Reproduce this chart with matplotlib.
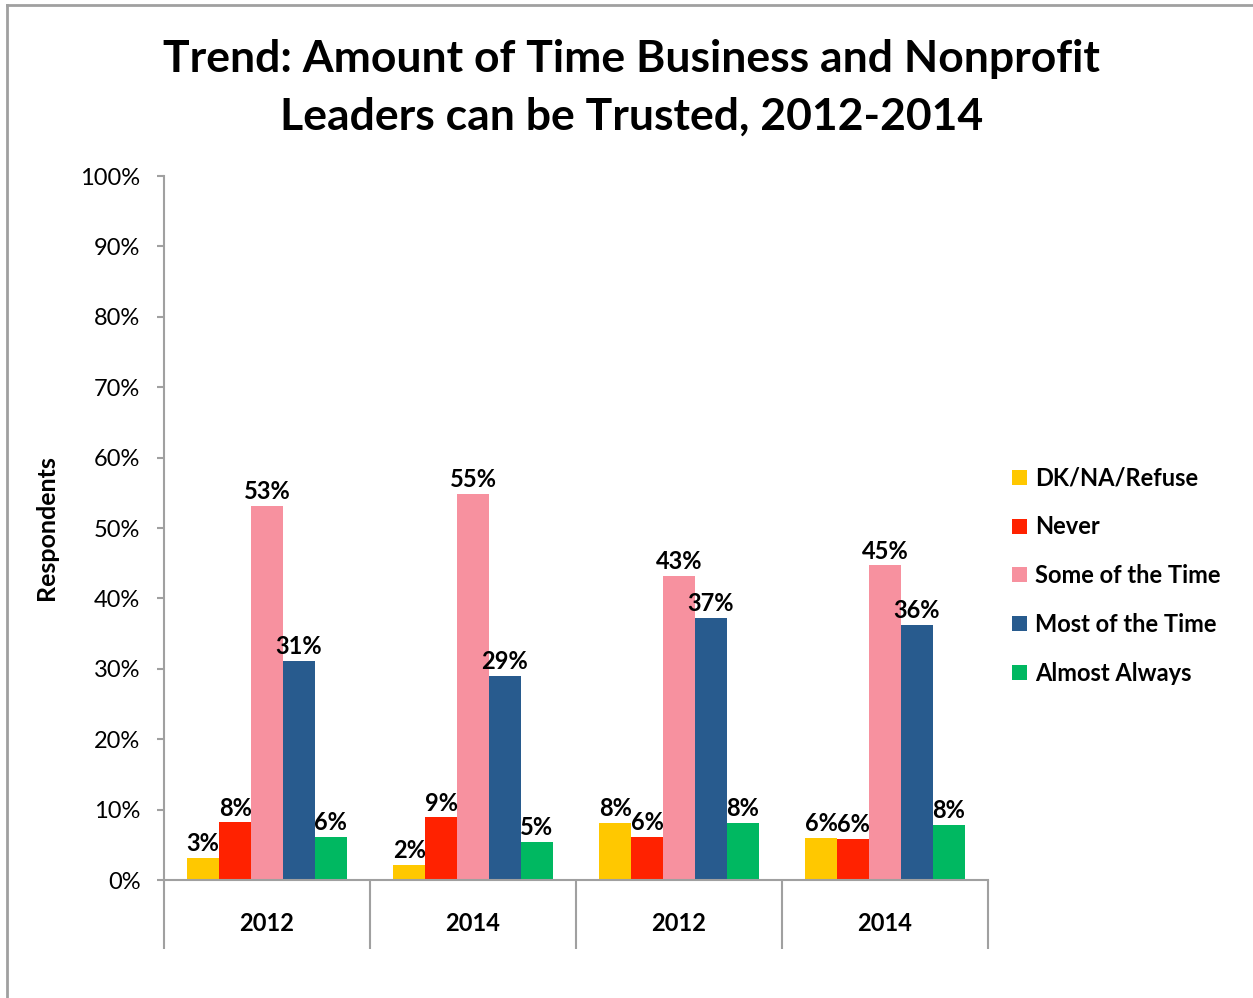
import matplotlib.pyplot as plt
from matplotlib.lines import Line2D
from matplotlib.patches import Patch
import numpy as np

plt.rcParams["font.family"] = ["Lato", "DejaVu Sans"]

groups = ["2012", "2014", "2012", "2014"]
series = ["DK/NA/Refuse", "Never", "Some of the Time", "Most of the Time", "Almost Always"]
colors = ["#FFC800", "#FF2200", "#F7919F", "#285B8E", "#00B861"]

dk = [3.1, 2.1, 8.1, 6.0]
never = [8.2, 8.9, 6.1, 5.8]
some = [53.1, 54.8, 43.2, 44.7]
most = [31.1, 29.0, 37.2, 36.2]
almost = [6.1, 5.4, 8.1, 7.8]
values = [dk, never, some, most, almost]

yticks = np.arange(0, 101, 10)
ytick_labels = [f"{v}%" for v in yticks]


def main():
    fig = plt.figure(figsize=(12.53, 9.98), dpi=100)
    ax = fig.add_axes([0.1309, 0.1182, 0.6576, 0.7054])

    x = np.arange(len(groups))
    width = 0.155
    offsets = (np.arange(len(series)) - 2) * width

    for vals, name, color, off in zip(values, series, colors, offsets):
        bars = ax.bar(x + off, vals, width, color=color, label=name, linewidth=0)
        for b, v in zip(bars, vals):
            ax.annotate(f"{v:.0f}%", (b.get_x() + b.get_width() / 2, v),
                        xytext=(0, 2), textcoords="offset points",
                        ha="center", va="bottom", fontsize=17, fontweight="bold")

    ax.set_xlim(-0.5, len(groups) - 0.5)
    ax.set_ylim(0, 100)
    ax.set_yticks(yticks)
    ax.set_yticklabels(ytick_labels, fontsize=17)
    ax.set_xticks(x)
    ax.set_xticklabels(groups, fontsize=17, fontweight="bold")
    ax.set_xticks(np.arange(-0.5, len(groups)), minor=True)
    ax.tick_params(axis="x", which="major", length=0, pad=23)
    ax.tick_params(axis="x", which="minor", length=50, width=1.5, color="#A0A0A0")
    ax.tick_params(axis="y", length=5, width=1.5, color="#A0A0A0", pad=12)

    for side in ["top", "right"]:
        ax.spines[side].set_visible(False)
    for side in ["left", "bottom"]:
        ax.spines[side].set_color("#A0A0A0")
        ax.spines[side].set_linewidth(1.5)

    ax.set_ylabel("Respondents", fontsize=18, fontweight="bold", labelpad=16)

    fig.text(0.504, 0.912, "Trend: Amount of Time Business and Nonprofit\nLeaders can be Trusted, 2012-2014",
             ha="center", va="center", fontsize=32, fontweight="bold", linespacing=1.55)

    handles = [Patch(facecolor=c, label=s) for c, s in zip(colors, series)]
    fig.legend(handles=handles, loc="upper left", bbox_to_anchor=(0.791, 0.554),
               frameon=False, prop={"weight": "bold", "size": 17},
               handlelength=0.6, handleheight=0.6, handletextpad=0.35, labelspacing=1.1)

    fig.add_artist(Line2D([7 / 1253, 7 / 1253], [0, 1 - 5 / 998], color="#A0A0A0", linewidth=2))
    fig.add_artist(Line2D([7 / 1253, 1], [1 - 5 / 998, 1 - 5 / 998], color="#A0A0A0", linewidth=2))

    fig.savefig("out.png", dpi=100)
    plt.close(fig)


if __name__ == "__main__":
    main()
